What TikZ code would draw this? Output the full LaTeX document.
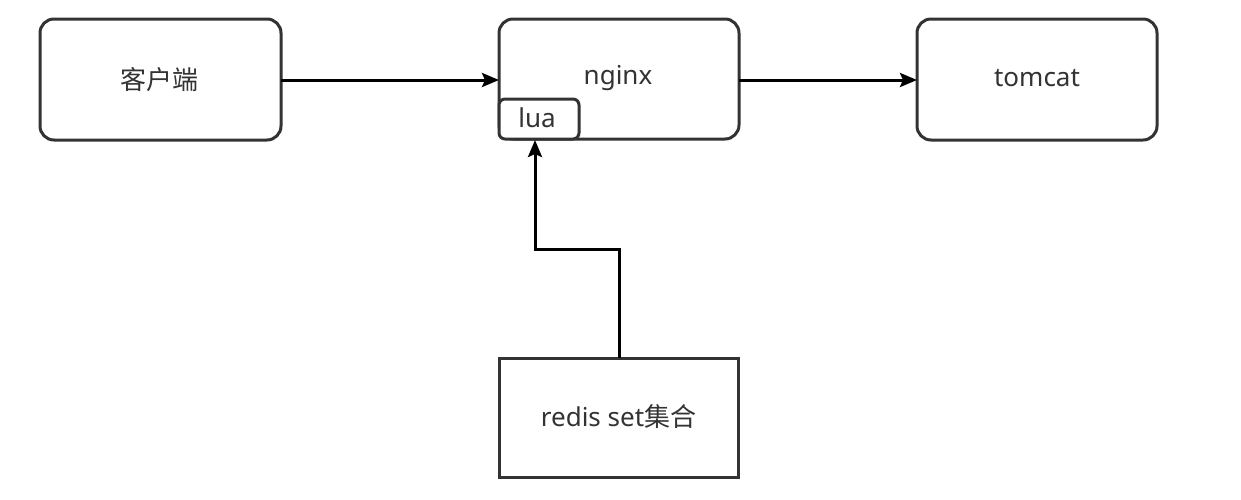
\documentclass[tikz,border=0pt]{standalone}
\usepackage{fontspec}
\setmainfont{Noto Sans}
\newfontfamily\cjk{Noto Sans CJK SC}
\usetikzlibrary{arrows.meta}
\begin{document}
\begin{tikzpicture}[x=1pt,y=-1pt,
  box/.style={draw=black!80,line width=3pt,fill=white,rounded corners=14pt,inner sep=0pt},
  sqbox/.style={draw=black!80,line width=3pt,fill=white,inner sep=0pt},
  lbl/.style={text=black!80,font=\fontsize{26pt}{30pt}\selectfont},
  conn/.style={draw=black,line width=3pt,-{Stealth[length=17pt,width=14pt,inset=3pt]}}]
\useasboundingbox (0,0) rectangle (1241,499);
\draw[box] (40,19) rectangle (281,140);
\node[lbl] (c) at (159,79.5) {\cjk 客户端};
\coordinate (cr) at (281,80);
\draw[box] (499,19) rectangle (739,139);
\node[lbl] (n) at (618,78) {nginx};
\coordinate (nl) at (499,80);
\coordinate (nr) at (739,80);
\draw[sqbox,rounded corners=6pt] (499,99) rectangle (579,139);
\node[lbl] (l) at (537,118) {lua};
\coordinate (lb) at (535,140);
\draw[box] (917,19) rectangle (1157,140);
\node[lbl] (t) at (1037,78) {tomcat};
\coordinate (tl) at (917,80);
\draw[sqbox] (499,358) rectangle (738,477);
\node[lbl] (r) at (618.5,417) {redis set{\cjk 集合}};
\coordinate (rt) at (619,358);
\draw[conn] (cr) -- (nl);
\draw[conn] (nr) -- (tl);
\draw[conn] (rt) -- (619,249) -- (535,249) -- (lb);
\end{tikzpicture}
\end{document}
